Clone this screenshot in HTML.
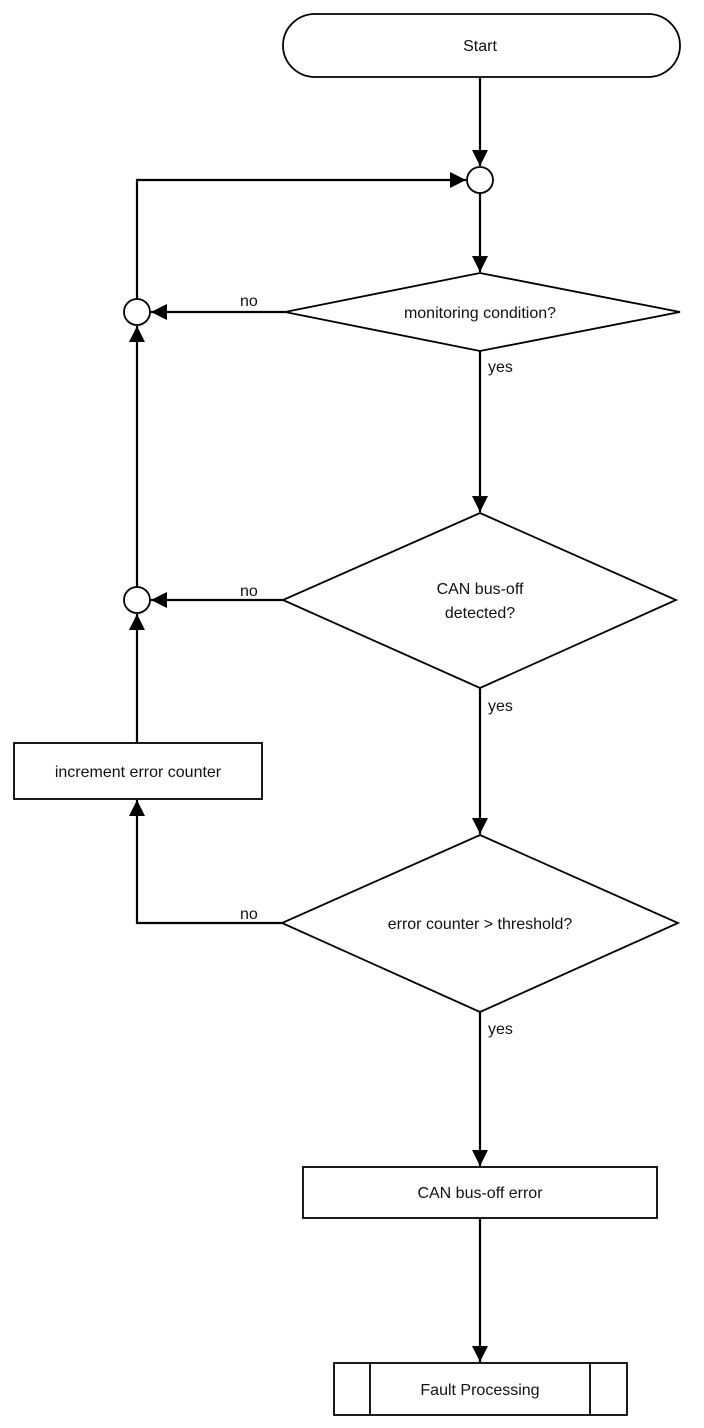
<!DOCTYPE html>
<html><head><meta charset="utf-8"><style>
html,body{margin:0;padding:0;background:#fff;}
svg{display:block;}
text{font-family:"Liberation Sans",sans-serif;font-size:16px;fill:#111;}
</style></head><body>
<svg width="704" height="1428" viewBox="0 0 704 1428" xmlns="http://www.w3.org/2000/svg">
<defs>
<marker id="a" viewBox="0 0 10 10" refX="10" refY="5" markerWidth="16" markerHeight="16" markerUnits="userSpaceOnUse" orient="auto"><path d="M0,0 L10,5 L0,10 z" fill="#000"/></marker>
</defs>
<g fill="none" stroke="#000" stroke-width="1.8">
<rect x="283" y="14" width="397" height="63" rx="32" ry="32" fill="#fff"/>
<line x1="480" y1="77" x2="480" y2="166" marker-end="url(#a)" style="stroke-width:2.2"/>
<circle cx="480" cy="180" r="13" fill="#fff"/>
<line x1="480" y1="193" x2="480" y2="272" marker-end="url(#a)" style="stroke-width:2.2"/>
<polygon points="480,273 680,312 480,351 285,312" fill="#fff"/>
<line x1="285" y1="312" x2="151" y2="312" marker-end="url(#a)" style="stroke-width:2.2"/>
<circle cx="137" cy="312" r="13" fill="#fff"/>
<polyline points="137,299 137,180 466,180" marker-end="url(#a)" style="stroke-width:2.2"/>
<line x1="480" y1="351" x2="480" y2="512" marker-end="url(#a)" style="stroke-width:2.2"/>
<polygon points="480,513 676,600 480,688 283,600" fill="#fff"/>
<line x1="283" y1="600" x2="151" y2="600" marker-end="url(#a)" style="stroke-width:2.2"/>
<circle cx="137" cy="600" r="13" fill="#fff"/>
<line x1="137" y1="587" x2="137" y2="326" marker-end="url(#a)" style="stroke-width:2.2"/>
<rect x="14" y="743" width="248" height="56" fill="#fff"/>
<line x1="137" y1="743" x2="137" y2="614" marker-end="url(#a)" style="stroke-width:2.2"/>
<line x1="480" y1="688" x2="480" y2="834" marker-end="url(#a)" style="stroke-width:2.2"/>
<polygon points="480,835 678,923 480,1012 282,923" fill="#fff"/>
<polyline points="282,923 137,923 137,800" marker-end="url(#a)" style="stroke-width:2.2"/>
<line x1="480" y1="1012" x2="480" y2="1166" marker-end="url(#a)" style="stroke-width:2.2"/>
<rect x="303" y="1167" width="354" height="51" fill="#fff"/>
<line x1="480" y1="1218" x2="480" y2="1362" marker-end="url(#a)" style="stroke-width:2.2"/>
<rect x="334" y="1363" width="293" height="52" fill="#fff"/>
<line x1="370" y1="1363" x2="370" y2="1415"/>
<line x1="590" y1="1363" x2="590" y2="1415"/>
</g>
<g text-anchor="middle">
<text x="480" y="51">Start</text>
<text x="480" y="318">monitoring condition?</text>
<text x="480" y="594">CAN bus-off</text>
<text x="480" y="618">detected?</text>
<text x="138" y="777">increment error counter</text>
<text x="480" y="929">error counter &gt; threshold?</text>
<text x="480" y="1198">CAN bus-off error</text>
<text x="480" y="1395">Fault Processing</text>
</g>
<text x="240" y="306">no</text>
<text x="240" y="596">no</text>
<text x="240" y="919">no</text>
<text x="488" y="372">yes</text>
<text x="488" y="711">yes</text>
<text x="488" y="1034">yes</text>
</svg>
</body></html>
